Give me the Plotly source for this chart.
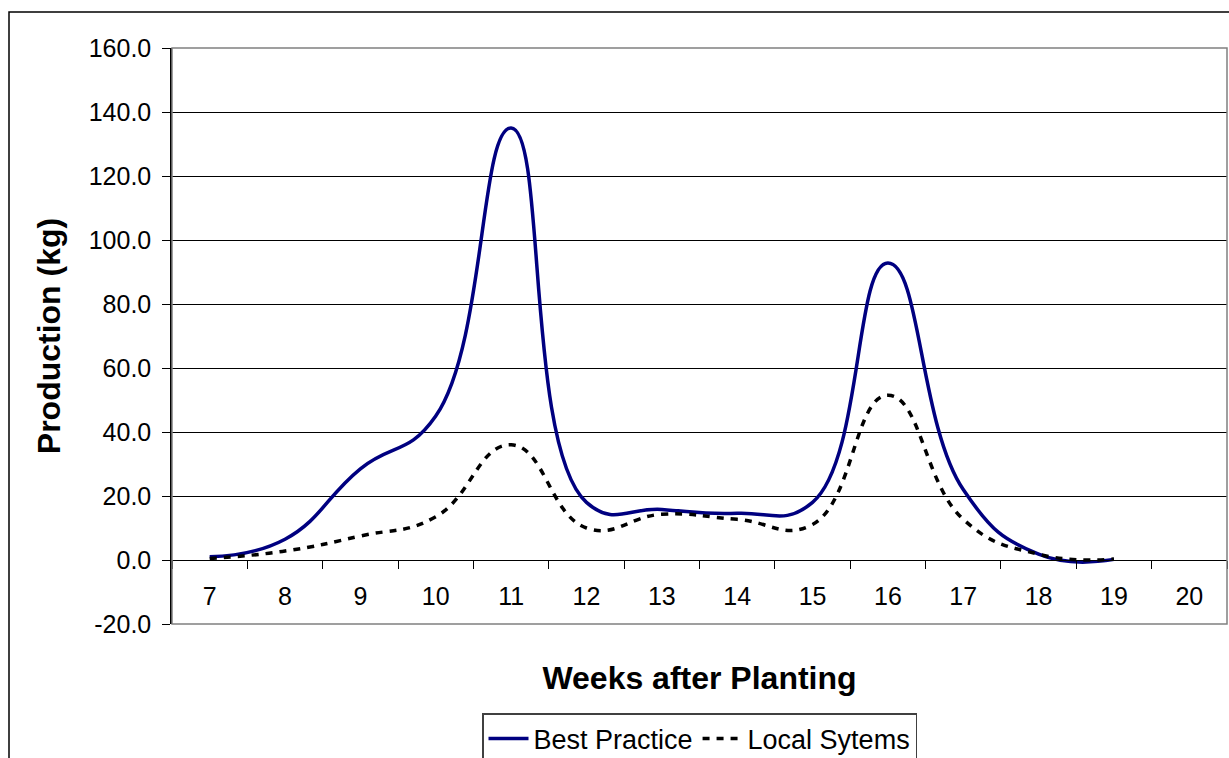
import plotly.graph_objects as go

# Weekly production (kg) by weeks after planting
weeks = ["7", "8", "9", "10", "11", "12", "13", "14", "15", "16", "17", "18", "19"]
week_axis = ["7", "8", "9", "10", "11", "12", "13", "14", "15", "16", "17", "18", "19", "20"]
best_practice = [1.0, 6.5, 28.5, 45.0, 135.0, 18.0, 15.8, 14.6, 18.0, 92.8, 22.0, 1.8, 0.2]
local_systems = [0.5, 2.8, 7.5, 13.5, 36.0, 10.0, 14.3, 12.7, 11.1, 51.5, 12.7, 1.8, 0.3]
y_ticks = [-20, 0, 20, 40, 60, 80, 100, 120, 140, 160]

W, H = 1229, 758
L, R, T, B = 172, 2, 48, 134
FONT = "Liberation Sans, Arial, sans-serif"

fig = go.Figure()
fig.add_trace(go.Scatter(
    x=weeks, y=best_practice, name="Best Practice", mode="lines",
    line=dict(color="#000080", width=3.5, shape="spline", smoothing=1.3),
))
fig.add_trace(go.Scatter(
    x=weeks, y=local_systems, name="Local Sytems", mode="lines",
    line=dict(color="#000000", width=3.5, shape="spline", smoothing=1.3, dash="7px,7px"),
))

pw, ph = W - L - R, H - T - B


def px_x(x):
    return (x - L) / pw


def px_y(y):
    return (H - B - y) / ph


y_min, y_max = y_ticks[0], y_ticks[-1]

fig.update_layout(
    width=W, height=H,
    margin=dict(l=L, r=R, t=T, b=B, autoexpand=False),
    paper_bgcolor="white", plot_bgcolor="white",
    font=dict(family=FONT, size=25, color="black"),
    showlegend=True,
    legend=dict(
        orientation="h", x=0.5, xanchor="center", y=px_y(713), yanchor="top",
        bordercolor="#404040", borderwidth=1.5, bgcolor="white",
        font=dict(size=27), itemwidth=40, tracegroupgap=0,
    ),
    xaxis=dict(
        type="category", categoryorder="array", categoryarray=week_axis,
        range=[-0.5, len(week_axis) - 0.5],
        anchor="free", position=(0 - y_min) / (y_max - y_min),
        showline=True, linecolor="black", linewidth=1,
        ticks="outside", tickson="boundaries", ticklen=8, tickcolor="black",
        ticklabelstandoff=14,
        showgrid=False, zeroline=False,
        title=dict(text="<b>Weeks after Planting</b>", font=dict(size=32), standoff=57),
    ),
    yaxis=dict(
        range=[y_min, y_max], tickvals=y_ticks,
        ticktext=[f"{v:.1f}" for v in y_ticks],
        showline=True, linecolor="black", linewidth=1.5,
        ticks="outside", ticklen=8, tickcolor="black", ticklabelstandoff=6,
        showgrid=True, gridcolor="black", gridwidth=1,
        zeroline=False,
        title=dict(text="<b>Production (kg)</b>", font=dict(size=32), standoff=18),
    ),
    shapes=[
        # plot area frame
        dict(type="rect", xref="paper", yref="paper", x0=0, x1=1, y0=0, y1=1,
             line=dict(color="#808080", width=1.5), layer="above"),
        # chart area frame
        dict(type="rect", xref="paper", yref="paper",
             x0=px_x(9), x1=px_x(W + 20), y0=px_y(H + 20), y1=px_y(12),
             line=dict(color="black", width=1.5), layer="above"),
    ],
)

fig.write_html("out.html")
